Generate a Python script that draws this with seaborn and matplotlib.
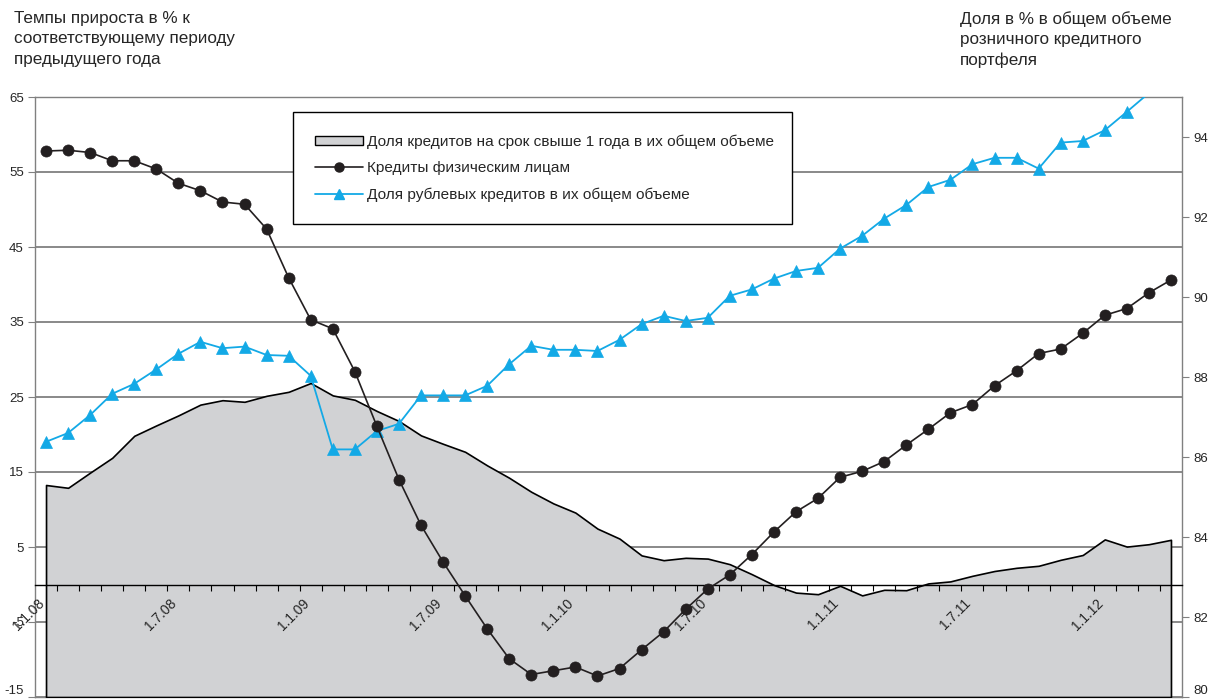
import numpy as np
import matplotlib
matplotlib.use("Agg")
import matplotlib.pyplot as plt
import matplotlib.transforms as mtransforms
import seaborn as sns
from matplotlib.patches import Patch
from matplotlib.lines import Line2D

# Monthly observations, January 2008 .. April 2012
months = [f"1.{m}.{y:02d}" for y in range(8, 13) for m in range(1, 13)][:52]
tick_labels = ["1.1.08", "1.7.08", "1.1.09", "1.7.09", "1.1.10",
               "1.7.10", "1.1.11", "1.7.11", "1.1.12"]

# Year-on-year growth of loans to individuals, % (left scale)
loans_growth = [57.8, 57.9, 57.6, 56.5, 56.5, 55.4, 53.5, 52.5, 51.0, 50.7,
                47.4, 40.9, 35.3, 34.1, 28.4, 21.1, 14.0, 7.9, 3.0, -1.5,
                -5.9, -9.9, -12.0, -11.5, -11.0, -12.2, -11.2, -8.7, -6.3, -3.3,
                -0.6, 1.3, 4.0, 7.0, 9.7, 11.5, 14.3, 15.1, 16.4, 18.6,
                20.7, 22.9, 24.0, 26.5, 28.5, 30.8, 31.4, 33.5, 35.9, 36.8,
                38.9, 40.6]

# Share of ruble loans in total, % (right scale)
ruble_share = [86.38, 86.6, 87.05, 87.58, 87.83, 88.19, 88.58, 88.88, 88.72, 88.76,
               88.55, 88.53, 88.03, 86.19, 86.19, 86.65, 86.83, 87.54, 87.54, 87.54,
               87.78, 88.32, 88.78, 88.68, 88.68, 88.65, 88.93, 89.32, 89.53, 89.4,
               89.48, 90.03, 90.19, 90.46, 90.65, 90.73, 91.21, 91.53, 91.96, 92.3,
               92.75, 92.93, 93.32, 93.48, 93.48, 93.21, 93.86, 93.9, 94.17, 94.63,
               95.1, 95.6]

# Share of loans with maturity over 1 year, % (right scale)
long_share = [85.3, 85.23, 85.61, 85.98, 86.53, 86.79, 87.04, 87.31, 87.42, 87.38,
              87.53, 87.63, 87.85, 87.54, 87.43, 87.15, 86.9, 86.54, 86.33, 86.13,
              85.79, 85.48, 85.13, 84.84, 84.61, 84.21, 83.96, 83.54, 83.42, 83.48,
              83.46, 83.32, 83.07, 82.8, 82.61, 82.57, 82.78, 82.54, 82.68, 82.67,
              82.84, 82.89, 83.03, 83.15, 83.23, 83.28, 83.43, 83.55, 83.94, 83.76,
              83.82, 83.93]

left_ticks = [-15, -5, 5, 15, 25, 35, 45, 55, 65]
right_ticks = [80, 82, 84, 86, 88, 90, 92, 94]

series_names = ["Доля кредитов на срок свыше 1 года в их общем объеме",
                "Кредиты физическим лицам",
                "Доля рублевых кредитов в их общем объеме"]

AREA = "#d1d2d4"
DARK = "#231f20"
BLUE = "#13a9e6"
GRID = "#808080"

sns.set_style("ticks")
plt.rcParams["font.family"] = ["Liberation Sans", "DejaVu Sans"]

W, H = 1208, 700
fig = plt.figure(figsize=(W / 100, H / 100), dpi=100)
rect = [35 / W, 3 / H, (1182 - 35) / W, (697 - 97) / H]

x = np.arange(len(months))
xlim = (-0.5, len(months) - 0.5)
left_lim = (-15, 65)
right_lim = (80, 95)

# Bottom layer: left scale, gridlines and frame
ax = fig.add_axes(rect)
ax.set_xlim(*xlim)
ax.set_ylim(*left_lim)
ax.set_yticks(left_ticks)
ax.set_yticklabels([str(t) for t in left_ticks])
ax.set_xticks([])
ax.yaxis.grid(True, color=GRID, lw=1.3)
ax.tick_params(axis="y", direction="out", length=5, width=0.8, color=GRID,
               labelsize=9.5, pad=3, left=True)
for s in ax.spines.values():
    s.set_color(GRID)
    s.set_linewidth(1.0)

# Middle layer: right scale, area and ruble share line
ax2 = ax.twinx()
ax2.set_xlim(*xlim)
ax2.set_ylim(*right_lim)
ax2.fill_between(x, long_share, right_lim[0], facecolor=AREA,
                 edgecolor="black", linewidth=1.2, zorder=1)
visible = [i for i, v in enumerate(ruble_share) if v <= right_lim[1]]
sns.lineplot(x=x, y=ruble_share, ax=ax2, color=BLUE, linewidth=1.3,
             marker="^", markersize=8.5, markeredgecolor=BLUE,
             markeredgewidth=0.5, markevery=visible, zorder=3)
ax2.set_yticks(right_ticks)
ax2.set_yticklabels([str(t) for t in right_ticks])
ax2.set_ylabel("")
ax2.tick_params(axis="y", direction="out", length=5, width=0.8, color=GRID,
                labelsize=9.5, pad=3, right=True)
for s in ax2.spines.values():
    s.set_visible(False)

# Lowest tick labels sit on the bottom edge; keep them inside the figure
ax.get_yticklabels()[0].set_va("bottom")
ax2.get_yticklabels()[0].set_va("bottom")

# Top layer: growth line and the category axis drawn at zero
ax3 = fig.add_axes(rect)
ax3.patch.set_visible(False)
ax3.set_xlim(*xlim)
ax3.set_ylim(*left_lim)
sns.lineplot(x=x, y=loans_growth, ax=ax3, color=DARK, linewidth=1.2,
             marker="o", markersize=8, markeredgecolor=DARK,
             markeredgewidth=0.5, zorder=4)
ax3.set_ylabel("")
ax3.set_yticks([])
for side in ["left", "right", "top"]:
    ax3.spines[side].set_visible(False)
ax3.spines["bottom"].set_position(("data", 0))
ax3.spines["bottom"].set_color("black")
ax3.spines["bottom"].set_linewidth(1.0)
ax3.set_xticks([months.index(t) for t in tick_labels])
ax3.set_xticklabels(tick_labels, rotation=45, ha="right", va="center",
                    rotation_mode="anchor")
ax3.set_xticks(np.arange(0.5, len(months) - 1, 1.0), minor=True)
ax3.tick_params(axis="x", which="major", length=0, pad=12, labelsize=10,
                bottom=True)
ax3.tick_params(axis="x", which="minor", direction="out", length=4,
                width=0.8, color="black", bottom=True)
shift = mtransforms.ScaledTranslation(-4 / 100, 0, fig.dpi_scale_trans)
for lbl in ax3.get_xticklabels():
    lbl.set_transform(lbl.get_transform() + shift)

# Legend
handles = [Patch(facecolor=AREA, edgecolor="black", linewidth=1.0),
           Line2D([], [], color=DARK, lw=1.2, marker="o", markersize=6.5),
           Line2D([], [], color=BLUE, lw=1.3, marker="^", markersize=7)]
leg = ax3.legend(handles, series_names, loc="upper left", mode="expand",
                 bbox_to_anchor=(293 / W, 1 - 227 / H, 499 / W, 115 / H),
                 bbox_transform=fig.transFigure, frameon=True, fancybox=False,
                 framealpha=1, edgecolor="black", fontsize=11.1,
                 handlelength=3.1, handleheight=0.55, borderpad=1.45,
                 labelspacing=0.8, handletextpad=0.25, borderaxespad=0)
leg.get_frame().set_linewidth(1.0)

# Axis captions
fig.text(14 / W, 1 - 11 / H,
         "Темпы прироста в % к\nсоответствующему периоду\nпредыдущего года",
         ha="left", va="top", fontsize=12.3, linespacing=1.45)
fig.text(960 / W, 1 - 11 / H,
         "Доля в % в общем объеме\nрозничного кредитного\nпортфеля",
         ha="left", va="top", fontsize=12.3, linespacing=1.45)

fig.savefig("out.png", dpi=100)
